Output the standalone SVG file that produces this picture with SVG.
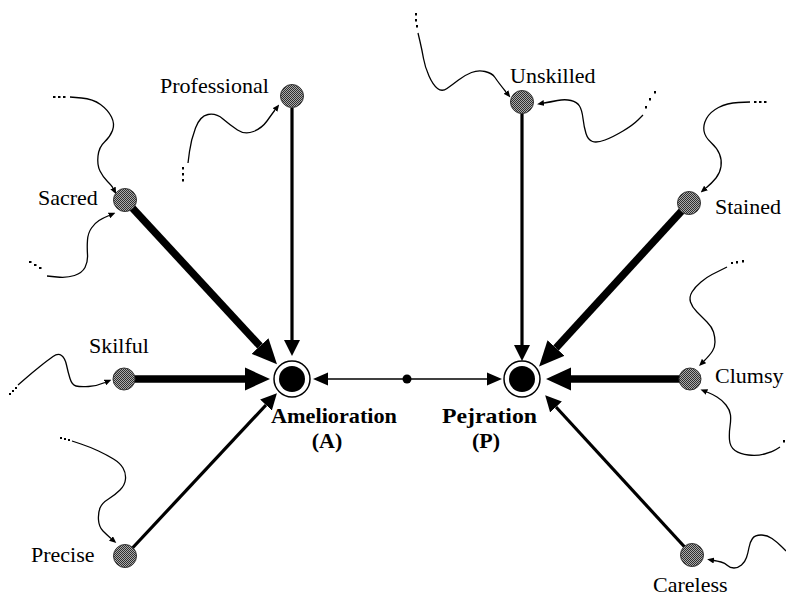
<svg xmlns="http://www.w3.org/2000/svg" width="786" height="599" viewBox="0 0 786 599">
  <style>
    .lbl { font-family: "Liberation Serif", "Times New Roman", serif; font-size: 22px; fill: #000; }
    .hub-lbl { font-family: "Liberation Serif", "Times New Roman", serif; font-size: 22px; font-weight: bold; fill: #000; }
    .node { fill: url(#hatch); stroke: #333; stroke-width: 1; }
    .edge { fill: none; stroke: #000; }
    .thick { stroke-width: 7.5; marker-end: url(#headBig); }
    .mid { stroke-width: 3.2; marker-end: url(#headMid); }
    .thin { stroke-width: 1.6; marker-end: url(#headSmall); }
    .wave { fill: none; stroke: #000; stroke-width: 1.3; stroke-linejoin: round; marker-end: url(#headTiny); }
    .dot { fill: #000; }
  </style>
  <defs>
    <pattern id="hatch" width="2" height="2" patternUnits="userSpaceOnUse">
      <rect width="2" height="2" fill="#ababab"/>
      <rect width="1" height="1" fill="#2e2e2e"/>
      <rect x="1" y="1" width="1" height="1" fill="#2e2e2e"/>
    </pattern>
    <marker id="headBig" markerUnits="userSpaceOnUse" viewBox="0 -12 26 24" markerWidth="26" markerHeight="24" refX="0" refY="0" orient="auto">
      <path d="M0,-11.5 L25,0 L0,11.5 z" fill="#000"/>
    </marker>
    <marker id="headMid" markerUnits="userSpaceOnUse" viewBox="0 -8 16 16" markerWidth="16" markerHeight="16" refX="0" refY="0" orient="auto">
      <path d="M0,-8 L16,0 L0,8 z" fill="#000"/>
    </marker>
    <marker id="headSmall" markerUnits="userSpaceOnUse" viewBox="0 -7 15 14" markerWidth="15" markerHeight="14" refX="0" refY="0" orient="auto">
      <path d="M0,-6.5 L15,0 L0,6.5 z" fill="#000"/>
    </marker>
    <marker id="headTiny" markerUnits="userSpaceOnUse" viewBox="0 -3 7 6" markerWidth="7" markerHeight="6" refX="0" refY="0" orient="auto">
      <path d="M0,-3 L7,0 L0,3 z" fill="#000"/>
    </marker>
  </defs>

  <!-- connectors -->
  <g id="connectors">
    <!-- into Amelioration -->
    <line class="edge mid" x1="292" y1="108" x2="292" y2="340"/>
    <line class="edge thick" x1="125" y1="200" x2="260" y2="346"/>
    <line class="edge thick" x1="124" y1="379" x2="245" y2="379"/>
    <line class="edge mid" x1="125" y1="556" x2="266" y2="405"/>
    <!-- between the two hubs -->
    <line class="edge thin" x1="407" y1="379" x2="328" y2="379"/>
    <line class="edge thin" x1="407" y1="379" x2="487" y2="379"/>
    <circle class="dot" cx="407" cy="379" r="4.5"/>
    <!-- into Pejration -->
    <line class="edge mid" x1="522" y1="113" x2="522" y2="345"/>
    <line class="edge thick" x1="689" y1="203" x2="556" y2="348"/>
    <line class="edge thick" x1="690" y1="379" x2="571" y2="379"/>
    <line class="edge mid" x1="692" y1="555" x2="556" y2="407"/>

    <!-- wavy incoming links with trailing dots -->
    <path class="wave" d="M188,163 L189.5,151.5 Q191,140 195.5,128 Q200,116 208,114.5 Q216,113 223,119 Q230,125 237.5,130 Q245,135 253.5,131.5 Q262,128 267,121 Q272,114 275,110"/>
    <rect class="dot" x="182" y="167" width="2" height="2.5"/>
    <rect class="dot" x="182" y="173" width="2" height="2.5"/>
    <rect class="dot" x="182" y="179" width="2" height="2.5"/>

    <path class="wave" d="M70,97 L81.5,98 Q93,99 100.5,104.5 Q108,110 111.5,117 Q115,124 112.5,130.5 Q110,137 104.5,142 Q99,147 98,156 Q97,165 100,171 Q103,177 107.5,181.5 Q112,186 113,188"/>
    <rect class="dot" x="53" y="96" width="2.5" height="2"/>
    <rect class="dot" x="58" y="96" width="2.5" height="2"/>
    <rect class="dot" x="63" y="96" width="2.5" height="2"/>

    <path class="wave" d="M47,276 L57,277 Q67,278 74.5,275.5 Q82,273 85,267.5 Q88,262 87.5,254.5 Q87,247 87.5,240 Q88,233 91.5,228 Q95,223 99,220.5 Q103,218 109,215.5"/>
    <rect class="dot" x="29" y="261" width="2.5" height="2"/>
    <rect class="dot" x="34" y="264" width="2.5" height="2"/>
    <rect class="dot" x="39" y="267" width="2.5" height="2"/>

    <path class="wave" d="M18,385 L25.5,378.5 Q33,372 40.5,366 Q48,360 53,356.5 Q58,353 61.5,355.5 Q65,358 66.5,365 Q68,372 70,378.5 Q72,385 76,386 Q80,387 88.5,386.5 Q97,386 105,382.5"/>
    <rect class="dot" x="9" y="393" width="2" height="2"/>
    <rect class="dot" x="12" y="390" width="2" height="2"/>
    <rect class="dot" x="15" y="387" width="2" height="2"/>

    <path class="wave" d="M72,441 L81,444 Q90,447 98.5,451 Q107,455 113.5,459 Q120,463 123,468 Q126,473 125.5,479 Q125,485 120,490 Q115,495 108.5,499 Q102,503 100,508 Q98,513 98.5,520 Q99,527 103,531 Q107,535 111,538.5"/>
    <rect class="dot" x="60" y="437" width="2" height="2"/>
    <rect class="dot" x="64" y="438" width="2" height="2"/>
    <rect class="dot" x="68" y="439" width="2" height="2"/>

    <path class="wave" d="M418,33 L420,41.5 Q422,50 423.5,58.5 Q425,67 429,76 Q433,85 437.5,88.5 Q442,92 447,88.5 Q452,85 458.5,80 Q465,75 471.5,72.5 Q478,70 485,71.5 Q492,73 495,77.5 Q498,82 506,92"/>
    <rect class="dot" x="415" y="13" width="2" height="2.5"/>
    <rect class="dot" x="415" y="19" width="2" height="2.5"/>
    <rect class="dot" x="416" y="25" width="2" height="2.5"/>

    <path class="wave" d="M643,115 L638,120 Q633,125 623,131 Q613,137 605,140 Q597,143 592.5,141.5 Q588,140 586,133.5 Q584,127 583,118.5 Q582,110 579.5,106 Q577,102 571,100.5 Q565,99 557.5,100.5 Q550,102 544,103"/>
    <rect class="dot" x="654" y="91" width="2" height="2.5"/>
    <rect class="dot" x="649" y="98" width="2" height="2.5"/>
    <rect class="dot" x="645" y="106" width="2" height="2.5"/>

    <path class="wave" d="M750,102 L738.5,102.5 Q727,103 718.5,107.5 Q710,112 706.5,118.5 Q703,125 704,131 Q705,137 711,142.5 Q717,148 719.5,154 Q722,160 721,166.5 Q720,173 716,178 Q712,183 706,188"/>
    <rect class="dot" x="754" y="101" width="2.5" height="2"/>
    <rect class="dot" x="759" y="101" width="2.5" height="2"/>
    <rect class="dot" x="764" y="101" width="2.5" height="2"/>

    <path class="wave" d="M727,267 L722,269.5 Q717,272 712,274.5 Q707,277 701,282 Q695,287 692,292 Q689,297 690.5,302 Q692,307 697,312 Q702,317 707,322 Q712,327 713.5,332 Q715,337 715,342 Q715,347 712.5,351 Q710,355 704,361"/>
    <rect class="dot" x="731" y="262" width="2" height="2"/>
    <rect class="dot" x="736" y="261" width="2" height="2.5"/>
    <rect class="dot" x="742" y="260" width="2" height="2.5"/>

    <path class="wave" d="M780,447 L776,449.5 Q772,452 764.5,454 Q757,456 748.5,455 Q740,454 735,450.5 Q730,447 729.5,440 Q729,433 730,426.5 Q731,420 730.5,415 Q730,410 726,405 Q722,400 717,397 Q712,394 707,392"/>
    <rect class="dot" x="783" y="440" width="2" height="2.5"/>

    <path class="wave" d="M786,551 L781.5,546.5 Q777,542 772,538.5 Q767,535 761,535 Q755,535 752.5,538.5 Q750,542 749,547.5 Q748,553 746.5,557.5 Q745,562 741.5,565 Q738,568 734,568 Q730,568 727.5,565.5 Q725,563 721,562 Q717,561 714,560.5"/>
  </g>

  <!-- hubs -->
  <g id="amelioration">
    <circle cx="292" cy="379" r="18" fill="#fff" stroke="#000" stroke-width="1.5"/>
    <circle cx="292" cy="379" r="13" fill="#000"/>
    <text class="hub-lbl" x="271" y="423" textLength="126" lengthAdjust="spacingAndGlyphs">Amelioration</text>
    <text class="hub-lbl" x="327" y="448" text-anchor="middle">(A)</text>
  </g>
  <g id="pejration">
    <circle cx="522" cy="379" r="18" fill="#fff" stroke="#000" stroke-width="1.5"/>
    <circle cx="522" cy="379" r="13" fill="#000"/>
    <text class="hub-lbl" x="442" y="423" textLength="95" lengthAdjust="spacingAndGlyphs">Pejration</text>
    <text class="hub-lbl" x="486" y="448" text-anchor="middle">(P)</text>
  </g>

  <!-- source nodes -->
  <g id="professional">
    <circle class="node" cx="292" cy="96" r="11.5"/>
    <text class="lbl" x="160" y="93">Professional</text>
  </g>
  <g id="sacred">
    <circle class="node" cx="125" cy="200" r="11.5"/>
    <text class="lbl" x="38" y="205">Sacred</text>
  </g>
  <g id="skilful">
    <circle class="node" cx="124" cy="379" r="11"/>
    <text class="lbl" x="89" y="353">Skilful</text>
  </g>
  <g id="precise">
    <circle class="node" cx="125" cy="556" r="11.5"/>
    <text class="lbl" x="31" y="562">Precise</text>
  </g>
  <g id="unskilled">
    <circle class="node" cx="522" cy="102" r="11.5"/>
    <text class="lbl" x="510" y="83">Unskilled</text>
  </g>
  <g id="stained">
    <circle class="node" cx="689" cy="203" r="11.5"/>
    <text class="lbl" x="715" y="214">Stained</text>
  </g>
  <g id="clumsy">
    <circle class="node" cx="690" cy="379" r="11"/>
    <text class="lbl" x="715" y="383">Clumsy</text>
  </g>
  <g id="careless">
    <circle class="node" cx="692" cy="555" r="11.5"/>
    <text class="lbl" x="653" y="592">Careless</text>
  </g>
</svg>
